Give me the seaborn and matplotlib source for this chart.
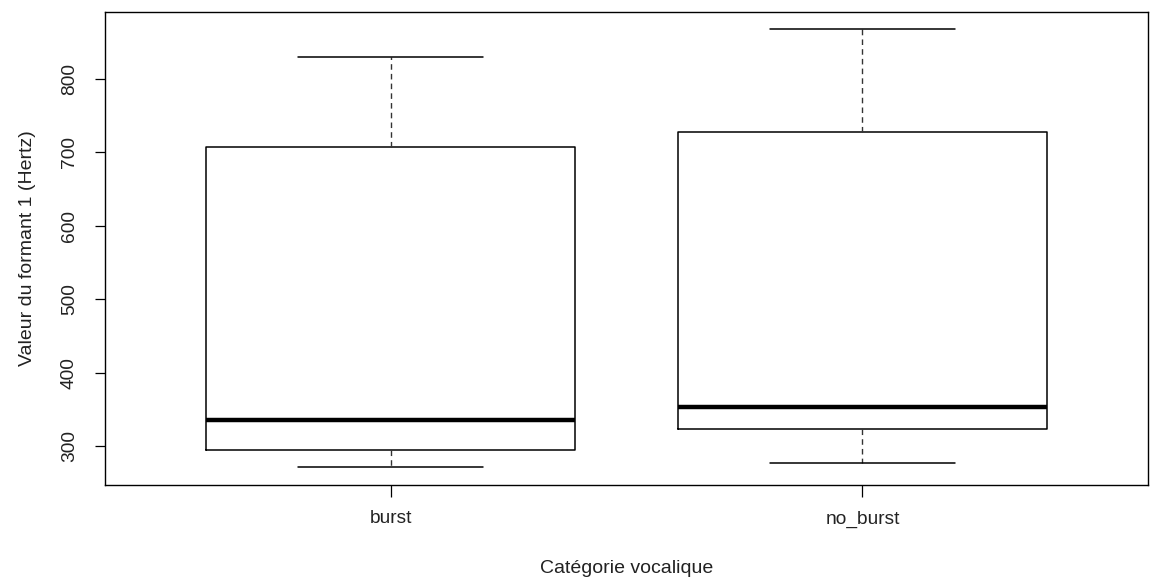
import matplotlib
matplotlib.use("Agg")
import matplotlib.pyplot as plt
import seaborn as sns
import pandas as pd

# Five-number summaries (min, Q1, median, Q3, max)
categories = ["burst", "no_burst"]
burst_values = [271, 295, 335, 707, 830]
no_burst_values = [277, 323, 353, 728, 868]
y_ticks = [300, 400, 500, 600, 700, 800]

df = pd.DataFrame({
    "cat": [categories[0]] * len(burst_values) + [categories[1]] * len(no_burst_values),
    "val": burst_values + no_burst_values,
})

sns.set_style("white")
plt.rcParams['font.family'] = ['Liberation Sans', 'DejaVu Sans']

fig = plt.figure(figsize=(11.6, 5.8), dpi=100)
ax = fig.add_axes([105/1160, 1 - 484.7/580, (1148 - 105)/1160, (484.7 - 12)/580])

sns.boxplot(
    data=df, x="cat", y="val", order=categories, ax=ax,
    whis=(0, 100), width=0.78, fill=False, color="black",
    linewidth=1.1, showfliers=False,
    boxprops=dict(color="black", linewidth=1.1),
    medianprops=dict(color="black", linewidth=3.2),
    whiskerprops=dict(color="#333333", linewidth=1.0, linestyle=(0, (4, 3))),
    capprops=dict(color="black", linewidth=1.1),
    capwidths=0.39,
)

ax.set_xlim(-0.605, 1.605)
ax.set_ylim(247.2, 891.4)
ax.set_yticks(y_ticks)
ax.set_yticklabels([str(v) for v in y_ticks], rotation=90, va="center")
for s in ax.spines.values():
    s.set_visible(True)
    s.set_color("black")
    s.set_linewidth(1.0)

ax.tick_params(axis="both", which="both", direction="out", color="black",
               labelsize=13.8, labelcolor="#222222")
ax.tick_params(axis="y", length=7.5, width=0.9, pad=12, left=True)
ax.tick_params(axis="x", length=8.5, width=0.9, pad=10, bottom=True)

ax.set_xlabel("Catégorie vocalique", fontsize=14, color="#222222", labelpad=23)
ax.set_ylabel("Valeur du formant 1 (Hertz)", fontsize=14, color="#222222", labelpad=18)

fig.savefig("out.png", dpi=100)
